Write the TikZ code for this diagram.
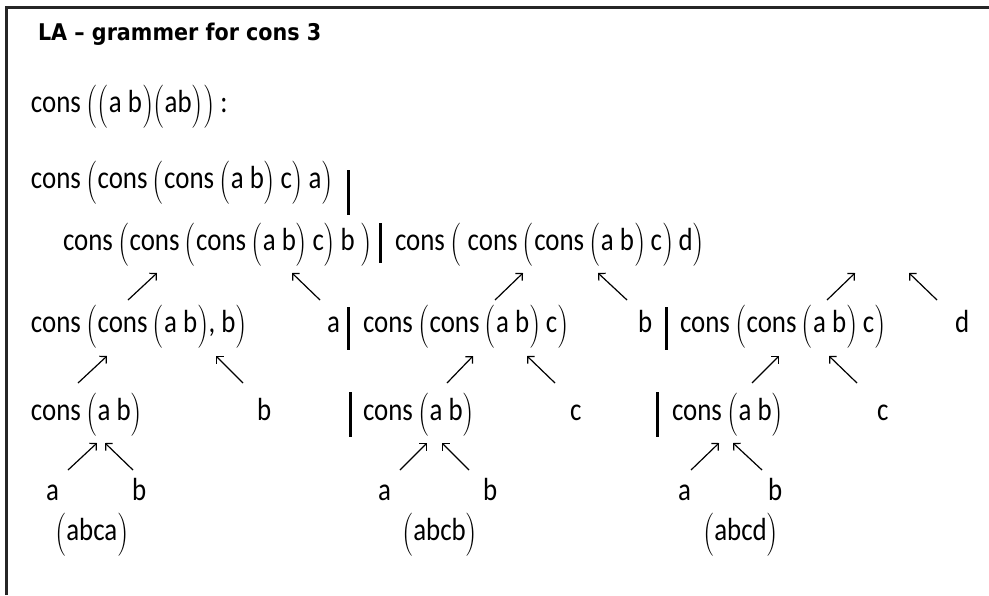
\documentclass[tikz,border=0pt]{standalone}
\usepackage{graphicx}
\usepackage{fontspec}
\setmainfont[FakeStretch=0.84]{Carlito}
\newfontfamily\titlefont[FakeStretch=0.9]{DejaVu Sans}
\newfontfamily\lmr{Latin Modern Roman}
\usetikzlibrary{arrows.meta}

% tall thin parentheses of the worksheet
\newcommand\pl{\raisebox{-2.5pt}{\scalebox{1}[1.35]{\lmr(}}}
\newcommand\pr{\raisebox{-2.5pt}{\scalebox{1}[1.35]{\lmr)}}}

\tikzset{
  txt/.style={anchor=base west,inner sep=0pt,outer sep=0pt},
  upr/.style={line width=0.6pt,-{Straight Barb[length=2.5pt,width=5pt]}},
  sepbar/.style={line width=1.5pt},
}

\begin{document}
\begin{tikzpicture}[x=0.5pt,y=-0.5pt,font=\fontsize{16}{19}\selectfont]
  \useasboundingbox (0,0) rectangle (989,595);
  \draw[line width=1.5pt,black!85] (6,595) -- (6,7) -- (989,7);

  \node[txt,font=\titlefont\bfseries\fontsize{11.5}{13}\selectfont] (title) at (38,40) {LA – grammer for cons 3};
  \node[txt] (goal) at (31,112) {cons\,\pl\pl a b\pr\pl ab\pr\pr\ :};

  % alternatives of the top level
  \node[txt] (top1) at (31,188) {cons\,\pl cons\,\pl cons\,\pl a b\pr\,c\pr\,a\pr};
  \draw[sepbar] (348,170) -- (348,215);
  \node[txt] (top2) at (63,250) {cons\,\pl cons\,\pl cons\,\pl a b\pr\,c\pr\,b\,\pr};
  \draw[sepbar] (380,223) -- (380,263);
  \node[txt] (top3) at (395,250) {cons\,\pl\ cons\,\pl cons\,\pl a b\pr\,c\pr\,d\pr};

  % second level
  \node[txt] (mid1) at (31,332) {cons\,\pl cons\,\pl a b\pr, b\pr};
  \node[txt] (mid1r) at (327,332) {a};
  \draw[sepbar] (348,307) -- (348,350);
  \node[txt] (mid2) at (363,332) {cons\,\pl cons\,\pl a b\pr\,c\pr};
  \node[txt] (mid2r) at (638,332) {b};
  \draw[sepbar] (666,307) -- (666,350);
  \node[txt] (mid3) at (680,332) {cons\,\pl cons\,\pl a b\pr\,c\pr};
  \node[txt] (mid3r) at (955,332) {d};

  % third level
  \node[txt] (low1) at (31,420) {cons\,\pl a b\pr};
  \node[txt] (low1r) at (257,420) {b};
  \draw[sepbar] (350,392) -- (350,437);
  \node[txt] (low2) at (363,420) {cons\,\pl a b\pr};
  \node[txt] (low2r) at (570,420) {c};
  \draw[sepbar] (657,392) -- (657,437);
  \node[txt] (low3) at (672,420) {cons\,\pl a b\pr};
  \node[txt] (low3r) at (877,420) {c};

  % leaves and words
  \node[txt] (la1) at (46,500) {a};
  \node[txt] (lb1) at (132,500) {b};
  \node[txt] (la2) at (378,500) {a};
  \node[txt] (lb2) at (483,500) {b};
  \node[txt] (la3) at (678,500) {a};
  \node[txt] (lb3) at (768,500) {b};
  \node[txt] (w1) at (55,540) {\pl abca\pr};
  \node[txt] (w2) at (402,540) {\pl abcb\pr};
  \node[txt] (w3) at (703,540) {\pl abcd\pr};

  % arrows
  \foreach \i/\x/\y/\dx in {1/128/300/29, 2/320/300/-28, 3/495/300/28, 4/627/300/-29,
      5/827/300/28, 6/937/300/-28, 7/78/383/29, 8/243/383/-27, 9/447/383/26,
      10/555/383/-28, 11/752/383/27, 12/857/383/-28, 13/68/470/29, 14/133/470/-28,
      15/400/470/27, 16/469/470/-27, 17/691/470/28, 18/762/470/-29} {
    \coordinate (f\i) at (\x,\y);
    \coordinate (h\i) at ([shift={(\dx,-27)}]f\i);
    \draw[upr] (f\i) -- (h\i);
  }
\end{tikzpicture}
\end{document}
